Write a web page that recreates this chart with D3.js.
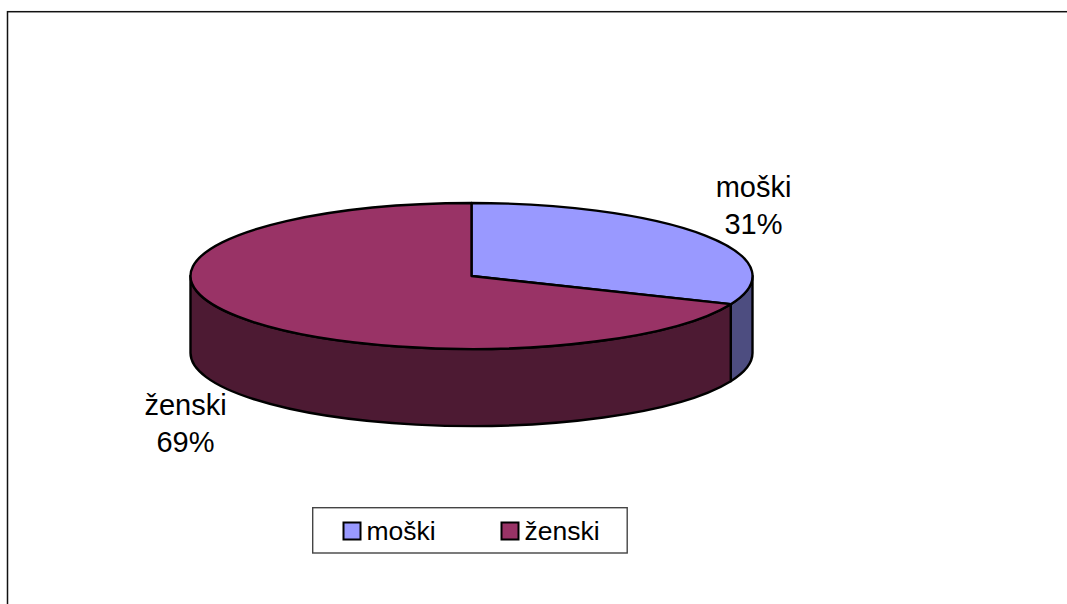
<!DOCTYPE html>
<html>
<head>
<meta charset="utf-8">
<script src="https://cdn.jsdelivr.net/npm/d3@7"></script>
<style>
body { margin: 0; background: #fff; }
text { font-family: "Liberation Sans", Arial, sans-serif; fill: #000; }
</style>
</head>
<body>
<div id="visualization"></div>
<script>
const categories = ["moški", "ženski"];
const values = [31.3, 68.7];
const percentLabels = ["31%", "69%"];
const topColors = ["#9999ff", "#993366"];
const sideColors = ["#4d4d80", "#4d1a33"];

const svg = d3.select("#visualization").append("svg")
    .attr("width", 1067)
    .attr("height", 604)
    .style("display", "block");

// chart frame, right and bottom edges fall outside the picture
svg.append("rect")
    .attr("x", 7.5).attr("y", 11.7)
    .attr("width", 1200).attr("height", 800)
    .attr("fill", "#fff")
    .attr("stroke", "#111")
    .attr("stroke-width", 1.5);

const cx = 471.5, cy = 276, rx = 281, ry = 73, depth = 77;

// the pie is a circle squashed into an ellipse
const px = d3.scaleLinear().domain([-1, 1]).range([cx - rx, cx + rx]);
const py = d3.scaleLinear().domain([-1, 1]).range([cy - ry, cy + ry]);
const ptX = a => px(Math.sin(a));
const ptY = a => py(-Math.cos(a));

const slices = d3.pie().sort(null)(values);

// side wall of one slice, only the part facing the viewer (90 to 270 degrees)
function sidePath(s) {
    const a0 = Math.max(s.startAngle, Math.PI / 2);
    const a1 = Math.min(s.endAngle, Math.PI * 1.5);
    if (a1 <= a0) return null;
    const big = a1 - a0 > Math.PI ? 1 : 0;
    return `M${ptX(a0)},${ptY(a0)}`
        + `A${rx},${ry} 0 ${big} 1 ${ptX(a1)},${ptY(a1)}`
        + `V${ptY(a1) + depth}`
        + `A${rx},${ry} 0 ${big} 0 ${ptX(a0)},${ptY(a0) + depth}Z`;
}

function topPath(s) {
    const big = s.endAngle - s.startAngle > Math.PI ? 1 : 0;
    return `M${cx},${cy}L${ptX(s.startAngle)},${ptY(s.startAngle)}`
        + `A${rx},${ry} 0 ${big} 1 ${ptX(s.endAngle)},${ptY(s.endAngle)}Z`;
}

const pie = svg.append("g")
    .attr("stroke", "#000")
    .attr("stroke-width", 2.4)
    .attr("stroke-linejoin", "round");

pie.selectAll("path.side")
    .data(slices)
    .join("path")
    .attr("class", "side")
    .attr("fill", (d, i) => sideColors[i])
    .attr("d", sidePath);

pie.selectAll("path.top")
    .data(slices)
    .join("path")
    .attr("class", "top")
    .attr("fill", (d, i) => topColors[i])
    .attr("d", topPath);

// data labels
const labelPos = [[753.5, 197], [185.5, 415]];
categories.forEach((c, i) => {
    const t = svg.append("text")
        .attr("text-anchor", "middle")
        .style("font-size", "29px");
    t.append("tspan").attr("x", labelPos[i][0]).attr("y", labelPos[i][1]).text(c);
    t.append("tspan").attr("x", labelPos[i][0]).attr("y", labelPos[i][1] + 36.5).text(percentLabels[i]);
});

// legend
const legend = svg.append("g");
legend.append("rect")
    .attr("x", 312.7).attr("y", 507.7)
    .attr("width", 314.5).attr("height", 45.3)
    .attr("fill", "#fff")
    .attr("stroke", "#444")
    .attr("stroke-width", 1.4);

const legendX = d3.scalePoint().domain(categories).range([343.5, 501.5]);
categories.forEach((c, i) => {
    legend.append("rect")
        .attr("x", legendX(c)).attr("y", 522.5)
        .attr("width", 17).attr("height", 17)
        .attr("fill", topColors[i])
        .attr("stroke", "#000")
        .attr("stroke-width", 2);
    legend.append("text")
        .attr("x", legendX(c) + 23).attr("y", 540)
        .style("font-size", "26.5px")
        .text(c);
});
</script>
</body>
</html>
